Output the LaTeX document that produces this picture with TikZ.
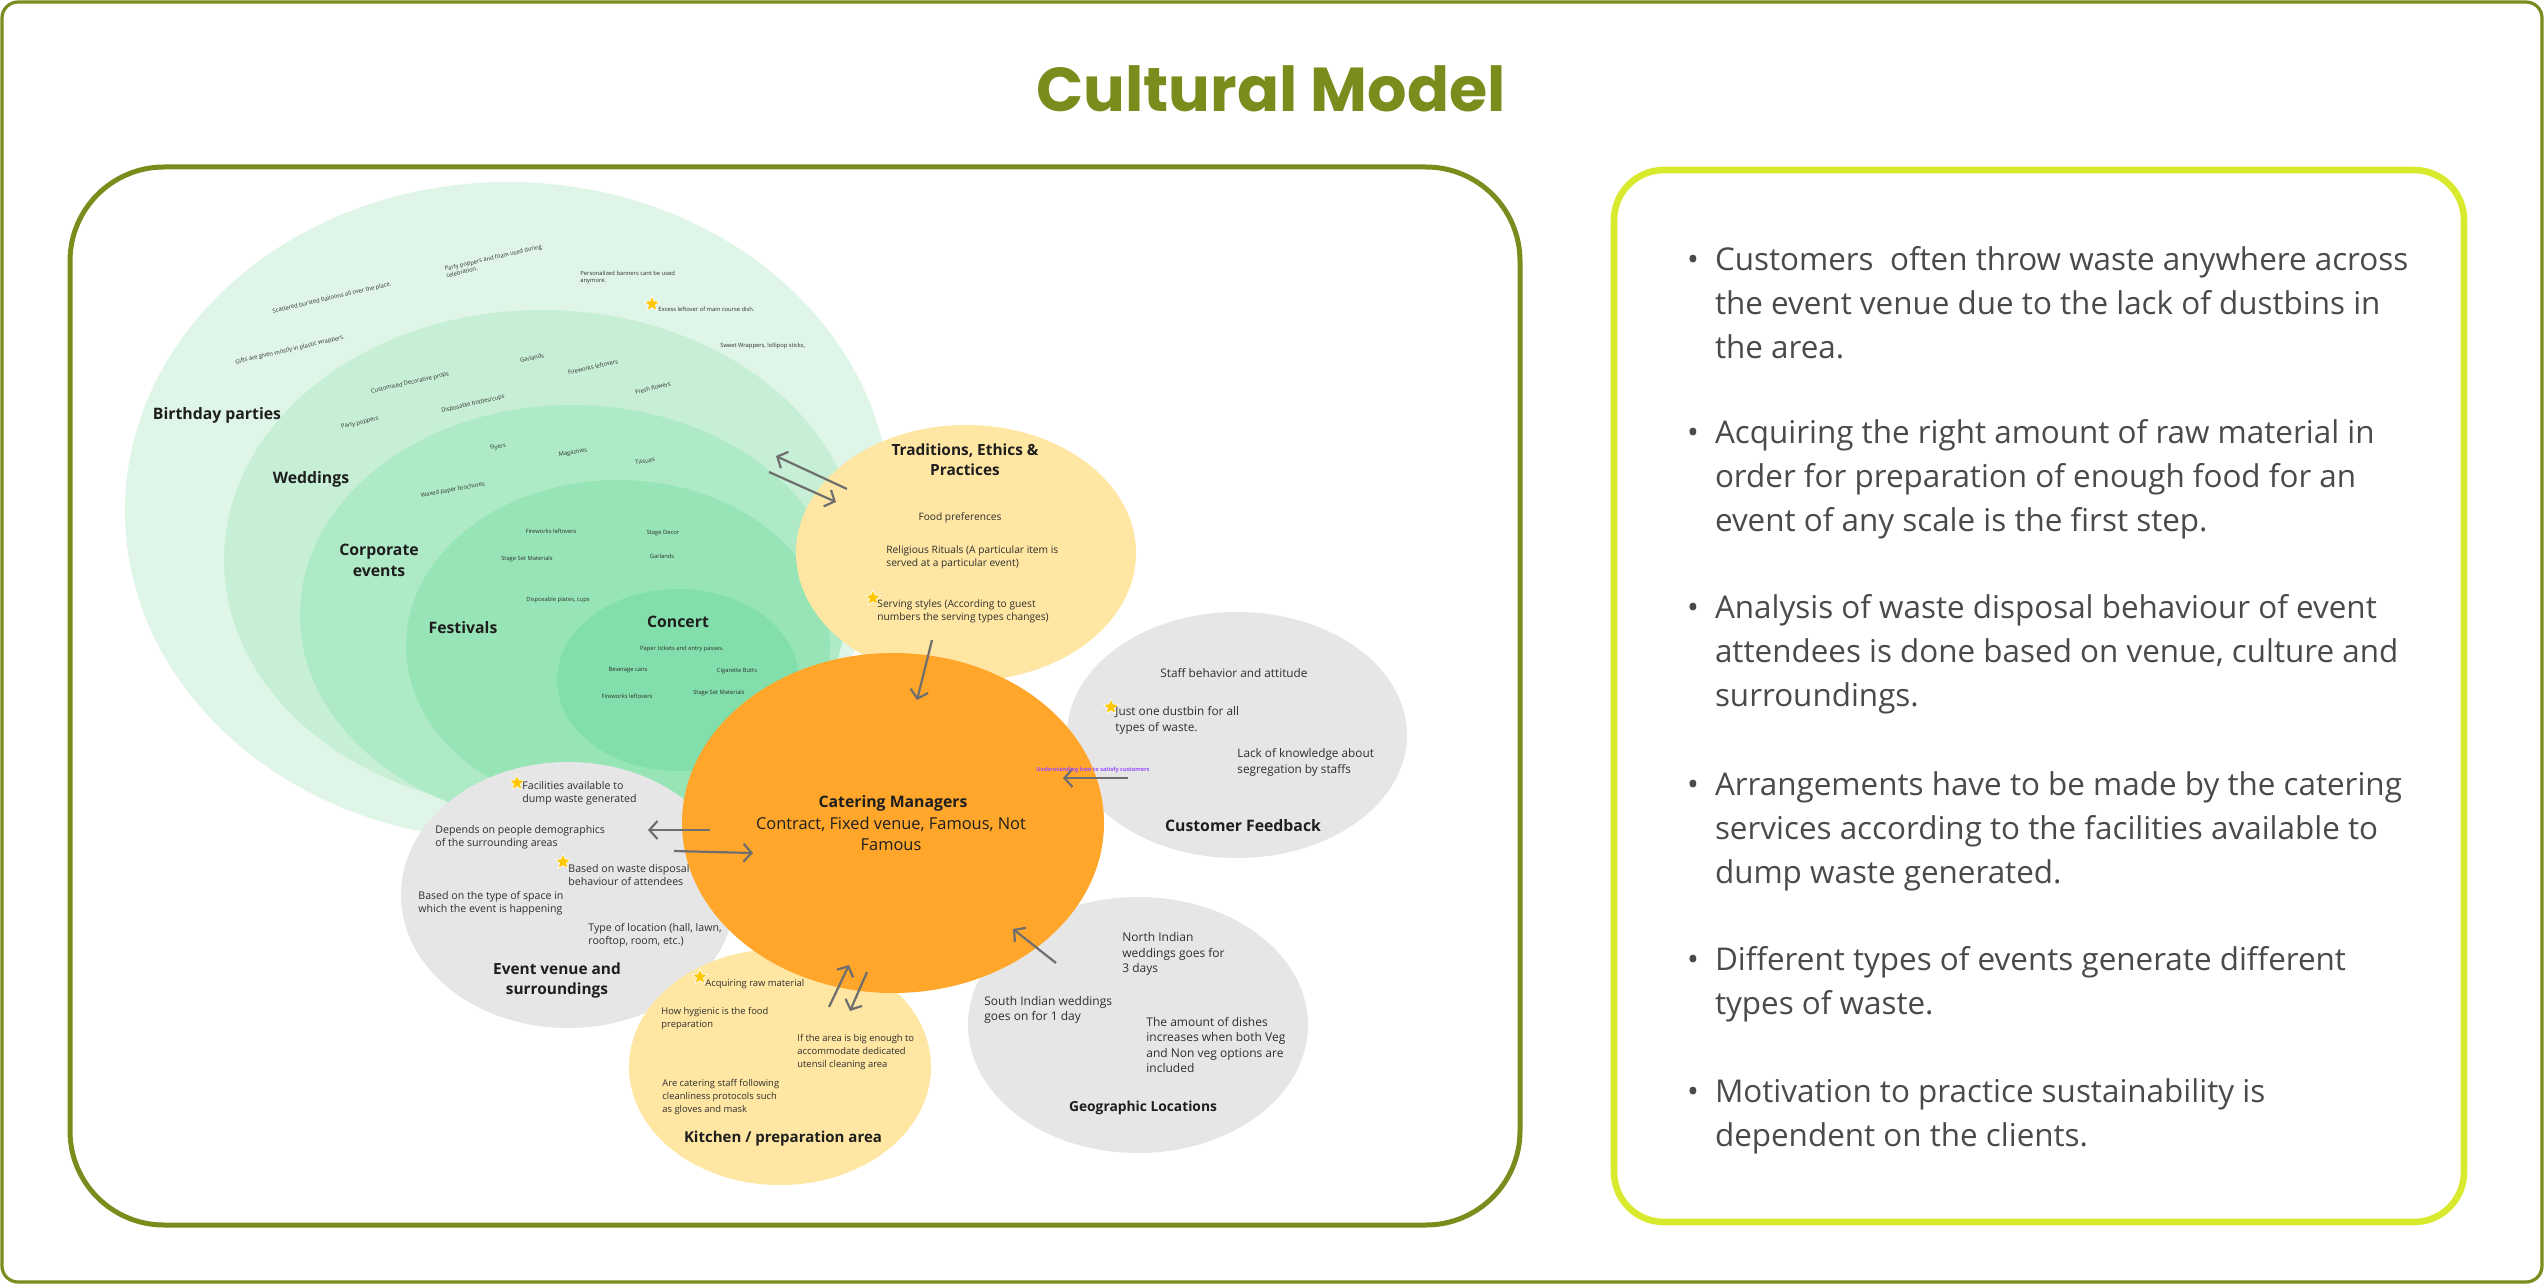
\documentclass[tikz,border=0pt]{standalone}
\usepackage{fontspec}
\setmainfont{Open Sans}
\newfontfamily\titlefont{Poppins}
\usetikzlibrary{shapes.geometric,arrows.meta}
\definecolor{oliveT}{HTML}{7A8C1C}
\definecolor{limeB}{HTML}{D9EA2E}
\definecolor{gA}{HTML}{DFF5E7}
\definecolor{gB}{HTML}{C6EFD5}
\definecolor{gC}{HTML}{AEEAC6}
\definecolor{gD}{HTML}{97E5B7}
\definecolor{gE}{HTML}{82DFAB}
\definecolor{yelF}{HTML}{FFE6A2}
\definecolor{oraF}{HTML}{FFA62B}
\definecolor{grayF}{HTML}{E6E6E6}
\definecolor{arrgray}{HTML}{6E6E6E}
\definecolor{txtc}{HTML}{2E2E2E}
\definecolor{headc}{HTML}{1E1E1E}
\definecolor{bodyc}{HTML}{4A4A4A}
\definecolor{staryel}{HTML}{FFC700}
\definecolor{purp}{HTML}{9B4DFF}
\tikzset{
 blob/.style={ellipse, inner sep=0pt, outer sep=0pt, draw=none},
 tinyt/.style={font=\fontsize{2.9}{3.5}\selectfont, text=txtc, inner sep=0pt},
 gh/.style={font=\bfseries\fontsize{7.9}{10}\selectfont, text=headc, inner sep=0pt, align=center},
 tradb/.style={font=\fontsize{5.1}{6.5}\selectfont, text=txtc, inner sep=0pt, align=left},
 custb/.style={font=\fontsize{5.9}{8}\selectfont, text=txtc, inner sep=0pt, align=left},
 evb/.style={font=\fontsize{5.3}{6.3}\selectfont, text=txtc, inner sep=0pt, align=left},
 kitb/.style={font=\fontsize{4.7}{6.5}\selectfont, text=txtc, inner sep=0pt, align=left},
 geob/.style={font=\fontsize{6.0}{7.8}\selectfont, text=txtc, inner sep=0pt, align=left},
 catb/.style={font=\fontsize{8.2}{10.5}\selectfont, text=headc, inner sep=0pt, align=center},
 hd/.style={font=\bfseries\fontsize{#1}{10}\selectfont, text=headc, inner sep=0pt, align=center},
 starm/.style={star, star points=5, star point ratio=2.2, fill=staryel, draw=white, line width=0.3pt, minimum size=8pt, inner sep=0pt},
 arr/.style={draw=arrgray, line width=1.1pt, -{Straight Barb[length=4pt, width=9pt]}},
 bul/.style={font=\fontsize{15.7}{22}\selectfont, text=bodyc, inner sep=0pt, outer sep=0pt, align=left, anchor=west}
}
\begin{document}
\begin{tikzpicture}[x=0.5pt,y=-0.5pt]
\useasboundingbox (0,0) rectangle (2544,1284);
\fill[white] (0,0) rectangle (2544,1284);
% frames
\draw[oliveT, line width=1.6pt, rounded corners=8pt] (2,2) rectangle (2542,1282);
\draw[oliveT, line width=2.5pt, rounded corners=47pt] (70,167) rectangle (1520,1225);
\draw[limeB, line width=3.3pt, rounded corners=25pt] (1614,170) rectangle (2464,1222);
\node[font=\titlefont\bfseries\fontsize{31}{36}\selectfont, text=oliveT, inner sep=0pt] (title) at (1271,89) {Cultural Model};

% green nested ellipses
\node[blob, fill=gA, minimum width=383pt, minimum height=329pt] (birthday) at (508,511) {};
\node[blob, fill=gB, minimum width=318pt, minimum height=250pt] (weddings) at (542,560) {};
\node[blob, fill=gC, minimum width=272pt, minimum height=210pt] (corporate) at (572,615) {};
\node[blob, fill=gD, minimum width=212pt, minimum height=166pt] (festivals) at (618,646) {};
\node[blob, fill=gE, minimum width=121pt, minimum height=91pt] (concert) at (678,680) {};

% birthday ring texts
\node[tinyt, rotate=13] (b1) at (332,298) {Scattered bursted balloons all over the place.};
\node[tinyt, rotate=13, align=left] (b2) at (494,261) {Party poppers and foam used during\\celebration.};
\node[tinyt, align=left, anchor=west] (b3) at (580,277) {Personalized banners cant be used\\anymore.};
\node[starm] (s1) at (652,304) {};
\node[tinyt, anchor=west] (b4) at (658,309) {Excess leftover of main course dish.};
\node[tinyt, rotate=13] (b5) at (290,350) {Gifts are given mostly in plastic wrappers.};
\node[tinyt, anchor=west] (b6) at (720,346) {Sweet Wrappers, lollipop sticks,};
\node[gh] (hbirth) at (217,415) {Birthday parties};
% weddings ring
\node[tinyt, rotate=13] (w1) at (410,383) {Customised Decorative props};
\node[tinyt, rotate=13] (w2) at (532,358) {Garlands};
\node[tinyt, rotate=13] (w3) at (593,367) {Fireworks leftovers};
\node[tinyt, rotate=13] (w4) at (653,388) {Fresh flowers};
\node[tinyt, rotate=13] (w5) at (473,404) {Disposable bottles/cups};
\node[tinyt, rotate=13] (w6) at (360,423) {Party poppers};
\node[gh] (hwed) at (311,479) {Weddings};
% corporate ring
\node[tinyt, rotate=10] (c1) at (498,447) {Flyers};
\node[tinyt, rotate=10] (c2) at (573,453) {Magazines};
\node[tinyt, rotate=10] (c3) at (645,461) {Tissues};
\node[tinyt, rotate=10] (c4) at (453,490) {Waxed paper brochures};
\node[gh, font=\bfseries\fontsize{7.9}{10.5}\selectfont] (hcorp) at (379,560) {Corporate\\events};
% festivals
\node[tinyt] (f1) at (551,531) {Fireworks leftovers};
\node[tinyt] (f2) at (663,533) {Stage Decor};
\node[tinyt] (f3) at (527,559) {Stage Set Materials};
\node[tinyt] (f4) at (662,556) {Garlands};
\node[tinyt] (f5) at (558,600) {Disposable plates, cups};
\node[gh] (hfest) at (463,628) {Festivals};
% concert
\node[gh] (hconc) at (678,622) {Concert};
\node[tinyt] (k1) at (682,649) {Paper tickets and entry passes.};
\node[tinyt] (k2) at (628,670) {Beverage cans};
\node[tinyt] (k3) at (737,671) {Cigarette Butts};
\node[tinyt] (k4) at (627,696) {Fireworks leftovers};
\node[tinyt] (k5) at (719,693) {Stage Set Materials};

% traditions
\node[blob, fill=yelF, minimum width=170pt, minimum height=128pt] (trad) at (966,553) {};
\node[hd=7.7] (htrad) at (965,460) {Traditions, Ethics \&\\Practices};
\node[tradb] (t1) at (960,518) {Food preferences};
\node[tradb, anchor=west] (t2) at (886,557) {Religious Rituals (A particular item is\\served at a particular event)};
\node[starm] (s2) at (873,598) {};
\node[tradb, anchor=west] (t3) at (877,611) {Serving styles (According to guest\\numbers the serving types changes)};

% customer feedback
\node[blob, fill=grayF, minimum width=170pt, minimum height=123pt] (cust) at (1237,735) {};
\node[custb] (cf1) at (1234,673) {Staff behavior and attitude};
\node[starm] (s3) at (1111,707) {};
\node[custb, anchor=west] (cf2) at (1115,720) {Just one dustbin for all\\types of waste.};
\node[custb, anchor=west] (cf3) at (1237,762) {Lack of knowledge about\\segregation by staffs};
\node[hd=7.9] (hcust) at (1243,826) {Customer Feedback};

% event venue
\node[blob, fill=grayF, minimum width=167pt, minimum height=133pt] (venue) at (568,895) {};
\node[starm] (s4) at (517,783) {};
\node[evb, anchor=west] (e1) at (522,793) {Facilities available to\\dump waste generated};
\node[evb, anchor=west] (e2) at (435,837) {Depends on people demographics\\of the surrounding areas};
\node[starm] (s5) at (563,862) {};
\node[evb, anchor=west] (e3) at (568,875) {Based on waste disposal\\behaviour of attendees};
\node[evb, anchor=west] (e4) at (418,903) {Based on the type of space in\\which the event is happening};
\node[evb, anchor=west] (e5) at (588,935) {Type of location (hall, lawn,\\rooftop, room, etc.)};
\node[hd=7.7] (hven) at (557,980) {Event venue and\\surroundings};

% kitchen
\node[blob, fill=yelF, minimum width=151pt, minimum height=118pt] (kitchen) at (780,1067) {};
\node[starm] (s6) at (700,977) {};
\node[kitb, anchor=west] (kk1) at (705,984) {Acquiring raw material};
\node[kitb, anchor=west] (kk2) at (661,1019) {How hygienic is the food\\preparation};
\node[kitb, anchor=west] (kk3) at (797,1052) {If the area is big enough to\\accommodate dedicated\\utensil cleaning area};
\node[kitb, anchor=west] (kk4) at (662,1097) {Are catering staff following\\cleanliness protocols such\\as gloves and mask};
\node[hd=7.5] (hkit) at (783,1139) {Kitchen / preparation area};

% geographic
\node[blob, fill=grayF, minimum width=170pt, minimum height=128pt] (geo) at (1138,1025) {};
\node[geob, anchor=west] (g1) at (1122,954) {North Indian\\weddings goes for\\3 days};
\node[geob, anchor=west] (g2) at (984,1010) {South Indian weddings\\goes on for 1 day};
\node[geob, anchor=west] (g3) at (1146,1045) {The amount of dishes\\increases when both Veg\\and Non veg options are\\included};
\node[hd=6.9] (hgeo) at (1143,1108) {Geographic Locations};

% catering managers
\node[blob, fill=oraF, minimum width=211pt, minimum height=170pt] (cater) at (893,823) {};
\node[hd=7.9] (hcat) at (893,803) {Catering Managers};
\node[catb] (cat1) at (891,834) {Contract, Fixed venue, Famous, Not\\Famous};

% connectors
\coordinate (a1s) at (847,489); \coordinate (a1e) at (776,456);
\coordinate (a2s) at (769,472); \coordinate (a2e) at (836,502);
\coordinate (a3s) at (932,640); \coordinate (a3e) at (917,700);
\coordinate (a4s) at (1128,778); \coordinate (a4e) at (1063,778);
\coordinate (a5s) at (710,830); \coordinate (a5e) at (648,830);
\coordinate (a6s) at (674,851); \coordinate (a6e) at (753,853);
\coordinate (a7s) at (829,1007); \coordinate (a7e) at (849,965);
\coordinate (a8s) at (867,972); \coordinate (a8e) at (850,1011);
\coordinate (a9s) at (1056,963); \coordinate (a9e) at (1013,929);
\draw[arr] (a1s) -- (a1e);
\draw[arr] (a2s) -- (a2e);
\draw[arr] (a3s) -- (a3e);
\draw[arr] (a4s) -- (a4e);
\draw[arr] (a5s) -- (a5e);
\draw[arr] (a6s) -- (a6e);
\draw[arr] (a7s) -- (a7e);
\draw[arr] (a8s) -- (a8e);
\draw[arr] (a9s) -- (a9e);
\node[font=\bfseries\fontsize{2.8}{3.4}\selectfont, text=purp, inner sep=0pt] (plab) at (1093,770) {Understanding how to satisfy customers};

% right panel bullets
\node[bul] (p1) at (1715,303) {\llap{\textbullet\hspace{8pt}}Customers~ often throw waste anywhere across\\the event venue due to the lack of dustbins in\\the area.};
\node[bul] (p2) at (1715,479) {\llap{\textbullet\hspace{8pt}}Acquiring the right amount of raw material in\\order for preparation of enough food for an\\event of any scale is the first step.};
\node[bul] (p3) at (1715,654) {\llap{\textbullet\hspace{8pt}}Analysis of waste disposal behaviour of event\\attendees is done based on venue, culture and\\surroundings.};
\node[bul] (p4) at (1715,831) {\llap{\textbullet\hspace{8pt}}Arrangements have to be made by the catering\\services according to the facilities available to\\dump waste generated.};
\node[bul] (p5) at (1715,984) {\llap{\textbullet\hspace{8pt}}Different types of events generate different\\types of waste.};
\node[bul] (p6) at (1715,1116) {\llap{\textbullet\hspace{8pt}}Motivation to practice sustainability is\\dependent on the clients.};
\end{tikzpicture}
\end{document}
